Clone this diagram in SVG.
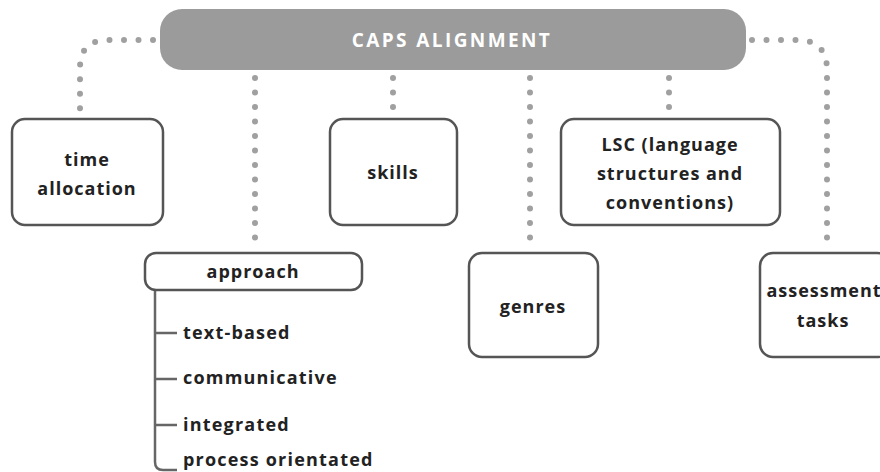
<svg xmlns="http://www.w3.org/2000/svg" width="880" height="472" viewBox="0 0 880 472">
<style>
.box{fill:#fff;stroke:#555;stroke-width:2.5}
.dot{fill:none;stroke:#a0a0a0;stroke-width:6;stroke-linecap:round;stroke-dasharray:0 14.5}
.t{font-family:"Open Sans","Liberation Sans",sans-serif;font-weight:bold;font-size:18px;letter-spacing:1px;fill:#222;text-anchor:middle}
.l{font-family:"Open Sans","Liberation Sans",sans-serif;font-weight:bold;font-size:18px;letter-spacing:1.2px;fill:#222}
.br{fill:none;stroke:#666;stroke-width:2.5}
</style>
<rect width="880" height="472" fill="#fff"/>
<g id="connectors">
<path class="dot" d="M153,40 L108,40 Q80,40 80,68 L80,118"/>
<path class="dot" d="M752,40 L797,40 Q827,40 827,70 L827,246"/>
<path class="dot" d="M255,78 L255,246"/>
<path class="dot" d="M393,78 L393,110"/>
<path class="dot" d="M530,78 L530,246"/>
<path class="dot" d="M669,78 L669,110"/>
<path class="br" d="M155,290 V462 Q155,470 163,470 H177 M155,333 H177 M155,379 H177 M155,425 H177"/>
</g>
<g id="caps">
<rect x="160" y="9" width="586" height="61" rx="22" fill="#9b9b9b"/>
<text x="452" y="47" class="t" style="fill:#fff;font-size:19px;letter-spacing:2.4px">CAPS ALIGNMENT</text>
</g>
<g id="time">
<rect class="box" x="12" y="119" width="151" height="106" rx="13"/>
<text class="t" x="87" y="166">time</text>
<text class="t" x="87" y="195">allocation</text>
</g>
<g id="skills">
<rect class="box" x="330" y="119" width="127" height="106" rx="13"/>
<text class="t" x="393" y="179">skills</text>
</g>
<g id="lsc">
<rect class="box" x="561" y="119" width="219" height="106" rx="13"/>
<text class="t" x="670" y="151">LSC (language</text>
<text class="t" x="670" y="180">structures and</text>
<text class="t" x="670" y="209">conventions)</text>
</g>
<g id="approach">
<rect class="box" x="145" y="253" width="217" height="37" rx="11"/>
<text class="t" x="253" y="278">approach</text>
<text class="l" x="183" y="339">text-based</text>
<text class="l" x="183" y="384">communicative</text>
<text class="l" x="183" y="431">integrated</text>
<text class="l" x="183" y="466">process orientated</text>
</g>
<g id="genres">
<rect class="box" x="469" y="253" width="129" height="104" rx="13"/>
<text class="t" x="533" y="313">genres</text>
</g>
<g id="assessment">
<rect class="box" x="760" y="253" width="130" height="104" rx="13"/>
<text class="t" x="824" y="297">assessment</text>
<text class="t" x="823" y="327">tasks</text>
</g>
</svg>
